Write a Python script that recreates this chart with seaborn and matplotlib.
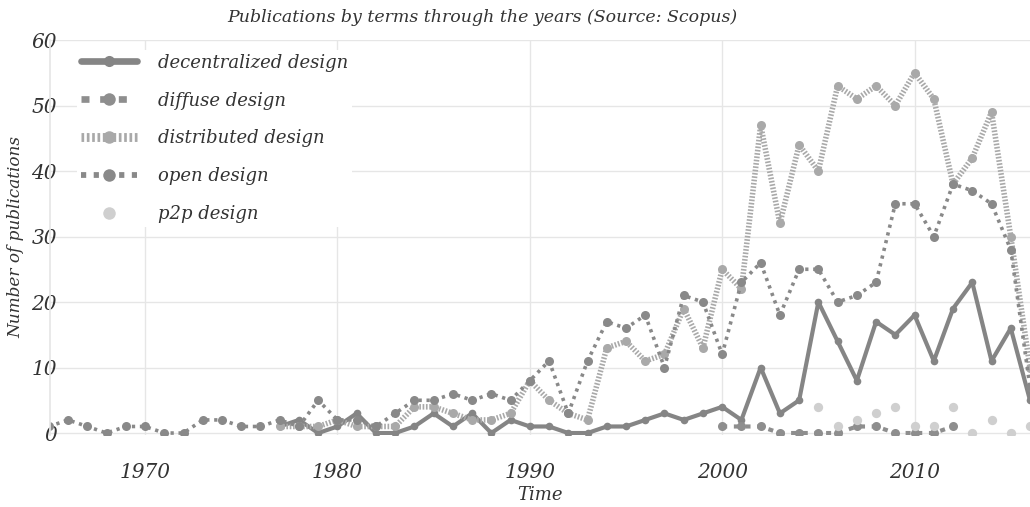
from matplotlib.lines import Line2D
from matplotlib import pyplot as plt
import seaborn as sns
import pandas as pd
import numpy as np

# Datos (publicaciones por año, Scopus)
years_open = list(range(1965, 2017))
open_design = [1, 2, 1, 0, 1, 1, 0, 0, 2, 2, 1, 1, 2, 1, 5, 2, 2, 1, 3, 5,
               5, 6, 5, 6, 5, 8, 11, 3, 11, 17, 16, 18, 10, 21, 20, 12, 23, 26, 18, 25,
               25, 20, 21, 23, 35, 35, 30, 38, 37, 35, 28, 7]

years_distributed = list(range(1977, 2017))
distributed_design = [1, 1, 1, 2, 1, 1, 1, 4, 4, 3, 2, 2, 3, 8, 5, 3, 2, 13, 14, 11,
                      12, 19, 13, 25, 22, 47, 32, 44, 40, 53, 51, 53, 50, 55, 51, 38, 42, 49, 30, 10]

years_decentralized = list(range(1977, 2017))
decentralized_design = [1, 2, 0, 1, 3, 0, 0, 1, 3, 1, 3, 0, 2, 1, 1, 0, 0, 1, 1, 2,
                        3, 2, 3, 4, 2, 10, 3, 5, 20, 14, 8, 17, 15, 18, 11, 19, 23, 11, 16, 5]

years_diffuse = list(range(2000, 2013))
diffuse_design = [1, 1, 1, 0, 0, 0, 0, 1, 1, 0, 0, 0, 1]

years_p2p = list(range(2005, 2017))
p2p_design = [4, 1, 2, 3, 4, 1, 1, 4, 0, 2, 0, 1]

x_ticks = [1970, 1980, 1990, 2000, 2010]
y_ticks = [0, 10, 20, 30, 40, 50, 60]

sns.set_theme(style="white")
plt.rcParams['font.family'] = ['DejaVu Serif']
plt.rcParams['font.style'] = 'italic'

fig = plt.figure(figsize=(10.3, 5.07), dpi=100)
ax = fig.add_axes([50 / 1030, 72 / 507, 980 / 1030, 395 / 507])

# nombre, años, valores, color, grosor, guiones, tamaño de marcador
series = [
    ('decentralized design', years_decentralized, decentralized_design, '#858585', 3.0, None, 5.5),
    ('diffuse design', years_diffuse, diffuse_design, '#8e8e8e', 3.0, (1.2, 1.6), 6.5),
    ('distributed design', years_distributed, distributed_design, '#a9a9a9', 4.0, (0.3, 0.3), 6.5),
    ('open design', years_open, open_design, '#898989', 2.6, (0.9, 1.3), 6.5),
]

handles = []
for name, xs, ys, color, lw, dash, ms in series:
    df = pd.DataFrame({'year': xs, 'n': ys})
    sns.lineplot(data=df, x='year', y='n', ax=ax, color=color, lw=lw,
                 marker='o', markersize=ms, markeredgewidth=0, errorbar=None)
    line = ax.lines[-1]
    if dash is not None:
        line.set_dashes(dash)
    h = Line2D([], [], color=color, lw=lw * 1.6, marker='o', markersize=ms + 2.5,
               markeredgewidth=0)
    if dash is not None:
        h.set_dashes(dash)
    handles.append(h)

# p2p solo con puntos
df_p2p = pd.DataFrame({'year': years_p2p, 'n': p2p_design})
sns.scatterplot(data=df_p2p, x='year', y='n', ax=ax, color='#cfcfcf', s=45,
                linewidth=0, zorder=3)
handles.append(Line2D([], [], color='#cfcfcf', lw=0, marker='o', markersize=9,
                      markeredgewidth=0))

ax.set_xlim(1965.06, 2016.0)
ax.set_ylim(-0.3, 60.0)
ax.set_xticks(x_ticks)
ax.set_yticks(y_ticks)
ax.grid(True, color='#e6e6e6', lw=1)
ax.set_axisbelow(True)
for s in ['top', 'right', 'bottom']:
    ax.spines[s].set_visible(False)
ax.spines['left'].set_color('#e6e6e6')
ax.tick_params(axis='x', labelsize=14.5, pad=20, length=0, colors='#333333')
ax.tick_params(axis='y', labelsize=14.5, pad=-5, length=0, colors='#333333')
ax.set_xlabel('Time', fontsize=13, color='#333333', labelpad=3)
ax.set_ylabel('Number of publications', fontsize=12.2, color='#333333', labelpad=5)

labels = ['decentralized design', 'diffuse design', 'distributed design',
          'open design', 'p2p design']
leg = ax.legend(handles, labels, loc='upper left', bbox_to_anchor=(68 / 1030, 466 / 507),
                bbox_transform=fig.transFigure, fontsize=13, handlelength=3.1,
                labelspacing=1.1, frameon=True, framealpha=1, facecolor='white',
                edgecolor='none', borderpad=0.2, handletextpad=1.2)
for t in leg.get_texts():
    t.set_color('#333333')

fig.text(482 / 1030, 1 - 18 / 507, 'Publications by terms through the years (Source: Scopus)',
         ha='center', va='center', fontsize=12.5, color='#333333')

plt.savefig('out.png', dpi=100)
